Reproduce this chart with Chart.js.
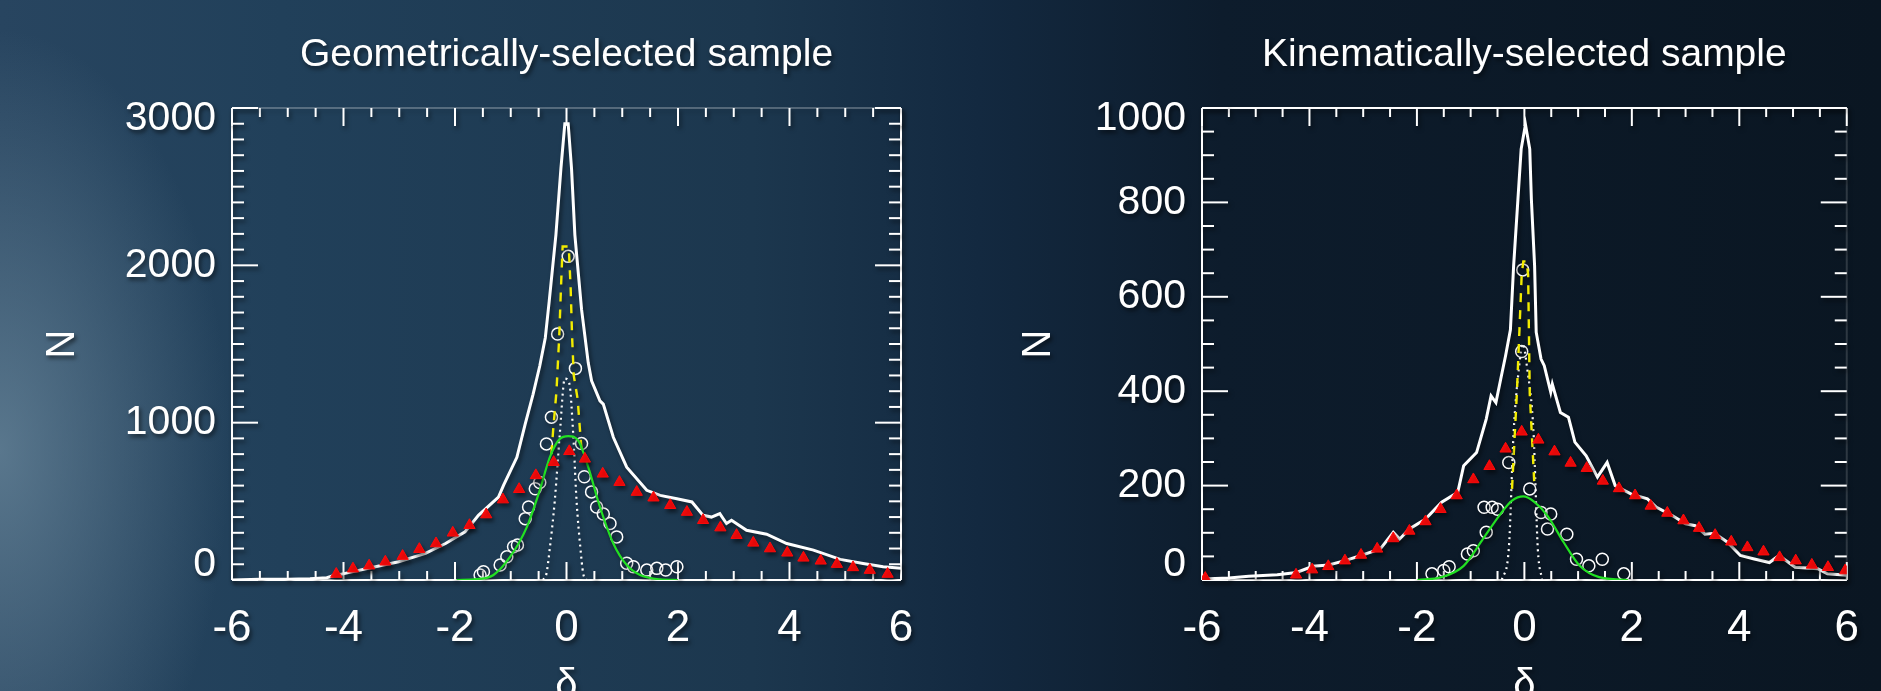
<!DOCTYPE html>
<html>
<head>
<meta charset="utf-8">
<script src="https://cdn.jsdelivr.net/npm/chart.js@4.4.1/dist/chart.umd.min.js"></script>
<style>
  html, body { margin: 0; padding: 0; width: 1881px; height: 691px; overflow: hidden; }
  body {
    position: relative;
    background:
      radial-gradient(ellipse 230px 420px at 0px 450px, rgba(110, 140, 160, 0.7), rgba(110, 140, 160, 0) 100%),
      linear-gradient(90deg, #284560 0%, #21405a 15%, #1c374e 40%, #132940 52%, #0d1c2c 65%, #0a1622 100%);
  }
  canvas { position: absolute; top: 0; }
  #geoChart { left: 0; }
  #kinChart { left: 940px; }
</style>
</head>
<body>
<canvas id="geoChart" width="940" height="740"></canvas>
<canvas id="kinChart" width="941" height="740"></canvas>
<script>
// ---- tick labels ----
const xTickLabels = [-6, -4, -2, 0, 2, 4, 6];
const geoYTickLabels = [0, 1000, 2000, 3000];
const kinYTickLabels = [0, 200, 400, 600, 800, 1000];

// ---- geometrically-selected sample ----
const geoAllX = [-6.0, -5.5, -5.0, -4.6, -4.3, -4.2, -3.97, -3.49, -3.01, -2.53, -2.17, -1.82, -1.58, -1.22, -1.13, -0.89, -0.74, -0.6, -0.48, -0.38, -0.31, -0.19, -0.1, -0.03, 0.03, 0.09, 0.15, 0.27, 0.39, 0.45, 0.6, 0.66, 0.84, 1.08, 1.44, 1.68, 1.98, 2.25, 2.45, 2.6, 2.75, 2.87, 2.96, 3.23, 3.59, 3.95, 4.43, 4.91, 5.32, 5.68, 6.0];
const geoAllN = [0, 5, 5, 8, 15, 25, 42, 80, 116, 169, 232, 306, 411, 527, 601, 780, 992, 1180, 1360, 1540, 1772, 2194, 2616, 2900, 2900, 2616, 2194, 1720, 1380, 1266, 1139, 1118, 907, 717, 570, 538, 517, 496, 411, 400, 422, 359, 380, 316, 291, 232, 190, 131, 105, 84, 74];

const geoTriX = [-4.13, -3.83, -3.54, -3.25, -2.94, -2.64, -2.34, -2.04, -1.74, -1.44, -1.14, -0.85, -0.55, -0.23, 0.05, 0.33, 0.65, 0.95, 1.26, 1.56, 1.86, 2.16, 2.45, 2.76, 3.05, 3.35, 3.65, 3.96, 4.25, 4.56, 4.85, 5.14, 5.44, 5.76];
const geoTriN = [38, 72, 91, 116, 152, 196, 232, 300, 348, 416, 511, 577, 665, 749, 818, 770, 675, 622, 559, 523, 475, 432, 380, 333, 285, 236, 200, 173, 141, 122, 101, 80, 63, 38];

const geoFitX = [-1.97, -1.61, -1.31, -1.01, -0.71, -0.48, -0.3, -0.12, 0.03, 0.21, 0.39, 0.6, 0.84, 1.08, 1.32, 1.68, 2.0];
const geoFitN = [0, 5, 32, 148, 338, 570, 780, 897, 915, 886, 717, 464, 232, 95, 32, 4, 0];

const geoCoreX = [-0.27, -0.24, -0.18, -0.13, -0.1, -0.07, 0.04, 0.075, 0.1, 0.13, 0.2, 0.26, 0.28];
const geoCoreN = [800, 950, 1200, 1550, 1850, 2120, 2120, 1850, 1550, 1300, 1150, 870, 800];

const geoDotX = [-0.42, -0.36, -0.3, -0.21, -0.12, -0.03, 0.05, 0.12, 0.18, 0.25, 0.3, 0.36];
const geoDotN = [0, 40, 200, 506, 930, 1280, 1250, 930, 506, 200, 40, 0];

const geoBinX = [-1.55, -1.49, -1.19, -1.07, -0.95, -0.88, -0.74, -0.68, -0.56, -0.48, -0.36, -0.27, -0.16, 0.03, 0.16, 0.27, 0.32, 0.45, 0.54, 0.66, 0.78, 0.9, 1.08, 1.2, 1.44, 1.62, 1.78, 1.98];
const geoBinN = [32, 53, 95, 148, 211, 222, 390, 464, 580, 620, 865, 1035, 1563, 2057, 1345, 867, 656, 560, 464, 420, 359, 274, 106, 84, 63, 74, 63, 84];

// ---- kinematically-selected sample ----
const kinAllX = [-6.0, -5.5, -5.13, -4.6, -4.24, -3.94, -3.64, -3.34, -3.04, -2.68, -2.44, -2.32, -2.14, -1.84, -1.54, -1.24, -1.13, -0.89, -0.71, -0.62, -0.53, -0.44, -0.35, -0.26, -0.2, -0.12, -0.06, 0.02, 0.1, 0.13, 0.19, 0.22, 0.31, 0.37, 0.49, 0.52, 0.67, 0.82, 0.94, 1.15, 1.36, 1.54, 1.69, 1.99, 2.29, 2.46, 2.76, 3.0, 3.18, 3.36, 3.54, 3.78, 4.02, 4.26, 4.56, 4.74, 5.04, 5.46, 5.64, 6.0];
const kinAllN = [2, 4, 8, 11, 16, 29, 32, 41, 52, 66, 101, 87, 108, 129, 165, 186, 242, 270, 341, 390, 376, 426, 475, 530, 666, 807, 913, 965, 913, 807, 666, 525, 468, 454, 398, 415, 355, 345, 292, 263, 218, 249, 200, 182, 172, 154, 136, 119, 115, 97, 99, 80, 52, 45, 37, 52, 27, 24, 13, 10];

const kinTriX = [-5.94, -4.25, -3.95, -3.65, -3.34, -3.04, -2.74, -2.44, -2.14, -1.84, -1.56, -1.26, -0.95, -0.65, -0.35, -0.05, 0.26, 0.56, 0.86, 1.16, 1.46, 1.76, 2.06, 2.35, 2.66, 2.96, 3.25, 3.55, 3.85, 4.15, 4.45, 4.75, 5.05, 5.35, 5.65, 5.97];
const kinTriN = [4, 11, 22, 29, 41, 53, 66, 88, 104, 124, 150, 179, 213, 241, 278, 314, 297, 272, 248, 237, 210, 194, 179, 157, 142, 126, 110, 95, 81, 69, 60, 48, 41, 32, 27, 20];

const kinFitX = [-1.99, -1.54, -1.13, -0.77, -0.47, -0.23, -0.02, 0.19, 0.43, 0.73, 1.03, 1.39, 1.93];
const kinFitN = [0, 6, 30, 87, 136, 168, 177, 165, 136, 80, 30, 6, 0];

const kinCoreX = [-0.23, -0.14, -0.05, -0.02, 0.04, 0.07, 0.1, 0.19];
const kinCoreN = [193, 395, 647, 675, 675, 647, 395, 193];

const kinDotX = [-0.42, -0.29, -0.2, -0.1, -0.03, 0.05, 0.17, 0.25, 0.33];
const kinDotN = [0, 66, 313, 450, 500, 450, 313, 66, 0];

const kinBinX = [-1.72, -1.5, -1.4, -1.06, -0.95, -0.75, -0.71, -0.6, -0.5, -0.29, -0.05, -0.03, 0.1, 0.31, 0.43, 0.49, 0.79, 0.97, 1.2, 1.45, 1.85];
const kinBinN = [13, 20, 28, 55, 62, 154, 101, 154, 150, 249, 484, 657, 193, 143, 108, 140, 97, 44, 30, 44, 13];

function pts(xs, ys) {
  return xs.map((x, i) => ({ x: x, y: ys[i] }));
}

// soft drop shadow under everything, like the slide it came from
const dropShadow = {
  id: "dropShadow",
  beforeDraw(chart) {
    const ctx = chart.ctx;
    ctx.shadowColor = "rgba(0, 0, 0, 0.55)";
    ctx.shadowBlur = 4;
    ctx.shadowOffsetX = 2;
    ctx.shadowOffsetY = 3;
  }
};

// frame with inward ticks on all four sides, IDL style
const idlFrame = {
  id: "idlFrame",
  beforeDatasetsDraw(chart, args, opts) {
    const ctx = chart.ctx;
    const a = chart.chartArea;
    const x = chart.scales.x;
    const y = chart.scales.y;
    function seg(x1, y1, x2, y2, alpha) {
      ctx.globalAlpha = alpha;
      ctx.beginPath();
      ctx.moveTo(x1, y1);
      ctx.lineTo(x2, y2);
      ctx.stroke();
    }
    ctx.save();
    ctx.strokeStyle = "#ffffff";
    ctx.lineWidth = 2;
    seg(a.left, a.top, a.left, a.bottom, 1);
    seg(a.left, a.bottom, a.right, a.bottom, 1);
    seg(a.left, a.top, a.right, a.top, opts.topAlpha);
    seg(a.right, a.top, a.right, a.bottom, opts.rightAlpha);
    for (let i = 0; i <= 24; i++) {
      const v = -6 + i * 0.5;
      const px = x.getPixelForValue(v);
      const len = i % 4 === 0 ? 18 : 9;
      seg(px, a.bottom, px, a.bottom - len, 1);
      seg(px, a.top, px, a.top + len, 1);
    }
    const n = Math.round(y.max / opts.yMinor);
    for (let i = 0; i <= n; i++) {
      const py = y.getPixelForValue(i * opts.yMinor);
      const len = i % opts.yEvery === 0 ? 26 : 12;
      seg(a.left, py, a.left + len, py, 1);
      seg(a.right, py, a.right - len, py, 1);
    }
    ctx.restore();
  }
};

function makeChart(id, title, yMax, yTicks, yMinor, yEvery, yWidth, rightPad, yTitlePad, topAlpha, rightAlpha, series) {
  return new Chart(document.getElementById(id), {
    type: "scatter",
    data: {
      datasets: [
        {
          data: pts(series.triX, series.triN),
          pointStyle: "triangle",
          pointRadius: 6.5,
          backgroundColor: "#ff0a0a",
          borderColor: "#ff0a0a",
          borderWidth: 1,
          showLine: false,
        },
        {
          data: pts(series.allX, series.allN),
          showLine: true,
          borderColor: "#ffffff",
          borderWidth: 3,
          pointRadius: 0,
        },
        {
          data: pts(series.fitX, series.fitN),
          showLine: true,
          borderColor: "#22e022",
          borderWidth: 2.2,
          pointRadius: 0,
          cubicInterpolationMode: "monotone",
        },
        {
          data: pts(series.coreX, series.coreN),
          showLine: true,
          borderColor: "#f2ec00",
          borderWidth: 2.4,
          borderDash: [9, 8],
          pointRadius: 0,
        },
        {
          data: pts(series.dotX, series.dotN),
          showLine: true,
          borderColor: "#ffffff",
          borderWidth: 2.2,
          borderDash: [2, 4],
          pointRadius: 0,
          cubicInterpolationMode: "monotone",
        },
        {
          data: pts(series.binX, series.binN),
          showLine: false,
          pointStyle: "circle",
          pointRadius: 6,
          backgroundColor: "rgba(0,0,0,0)",
          borderColor: "#ffffff",
          borderWidth: 1.5,
        },
      ],
    },
    options: {
      responsive: false,
      animation: false,
      layout: { padding: { left: 0, right: rightPad, top: 0, bottom: 0 } },
      plugins: {
        legend: { display: false },
        tooltip: { enabled: false },
        title: {
          display: true,
          text: title,
          fullSize: false,
          color: "#ffffff",
          font: { family: "Liberation Sans", size: 39, weight: "normal", lineHeight: 1.2 },
          padding: { top: 32, bottom: 29.2 },
        },
        idlFrame: { yMinor: yMinor, yEvery: yEvery, topAlpha: topAlpha, rightAlpha: rightAlpha },
      },
      scales: {
        x: {
          type: "linear",
          min: -6,
          max: 6,
          afterBuildTicks: (scale) => {
            scale.ticks = xTickLabels.map((v) => ({ value: v }));
          },
          afterFit: (scale) => {
            scale.height = 160;
          },
          grid: { display: false, drawTicks: false },
          border: { display: false },
          ticks: {
            color: "#ffffff",
            padding: 22,
            maxRotation: 0,
            callback: (v) => String(v),
            font: { family: "Liberation Sans", size: 44 },
          },
          title: {
            display: true,
            text: "δ",
            color: "#ffffff",
            font: { family: "Liberation Sans", size: 40, lineHeight: 1.2 },
            padding: { top: 0, bottom: 30 },
          },
        },
        y: {
          type: "linear",
          min: 0,
          max: yMax,
          afterBuildTicks: (scale) => {
            scale.ticks = yTicks.map((v) => ({ value: v }));
          },
          afterFit: (scale) => {
            scale.width = yWidth;
          },
          grid: { display: false, drawTicks: false },
          border: { display: false },
          ticks: {
            color: "#ffffff",
            padding: 16,
            // IDL keeps the end labels inside the axis range: nudge top down, bottom up
            callback: (v) => (v === yMax ? ["", String(v)] : v === 0 ? [String(v), ""] : String(v)),
            font: (c) => ({
              family: "Liberation Sans",
              size: 41,
              lineHeight: c.tick && c.tick.value === yMax ? "22px" : c.tick && c.tick.value === 0 ? "30px" : 1.2,
            }),
          },
          title: {
            display: true,
            text: "N",
            color: "#ffffff",
            font: { family: "Liberation Sans", size: 40, lineHeight: 1.2 },
            padding: { top: yTitlePad, bottom: 0 },
          },
        },
      },
    },
    plugins: [dropShadow, idlFrame],
  });
}

makeChart("geoChart", "Geometrically-selected sample", 3000, geoYTickLabels, 100, 10, 232, 39, 39, 0.25, 1, {
  allX: geoAllX, allN: geoAllN,
  triX: geoTriX, triN: geoTriN,
  fitX: geoFitX, fitN: geoFitN,
  coreX: geoCoreX, coreN: geoCoreN,
  dotX: geoDotX, dotN: geoDotN,
  binX: geoBinX, binN: geoBinN,
});

makeChart("kinChart", "Kinematically-selected sample", 1000, kinYTickLabels, 50, 4, 262, 11, 75, 1, 0.15, {
  allX: kinAllX, allN: kinAllN,
  triX: kinTriX, triN: kinTriN,
  fitX: kinFitX, fitN: kinFitN,
  coreX: kinCoreX, coreN: kinCoreN,
  dotX: kinDotX, dotN: kinDotN,
  binX: kinBinX, binN: kinBinN,
});
</script>
</body>
</html>
